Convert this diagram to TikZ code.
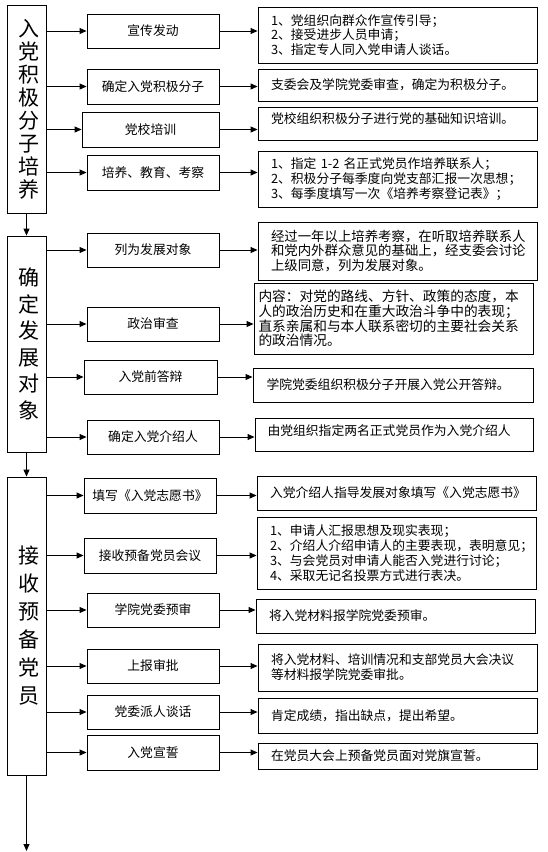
\documentclass[tikz,border=0pt]{standalone}
\usepackage{fontspec}
\setmainfont{Noto Sans CJK SC}
\usetikzlibrary{arrows.meta}
\newcommand\mybox[7][]{\node[box,minimum width={#5-#3},minimum height={#6-#4},#1] (#2) at ({(#3+#5)/2},{(#4+#6)/2}) {#7};}
\begin{document}
\begin{tikzpicture}[x=1pt,y=-1pt,
  box/.style={draw,line width=0.9pt,inner sep=0pt},
  mid/.style={font=\fontsize{12.8}{14.5}\selectfont},
  rbox/.style={font=\fontsize{12.8}{14.6}\selectfont,align=left,text width=253pt},
  lbox/.style={align=center},
  arr/.style={line width=0.9pt,-{Triangle[length=7pt,width=6pt]}}]
\useasboundingbox (0,0) rectangle (548,852);
% left stage boxes
\mybox[lbox,font=\fontsize{21}{23}\selectfont]{L1}{7}{5}{46}{213}{\hspace*{5pt}入\\\hspace*{5pt}党\\\hspace*{5pt}积\\\hspace*{5pt}极\\\hspace*{5pt}分\\\hspace*{5pt}子\\\hspace*{5pt}培\\\hspace*{5pt}养}
\mybox[lbox,font=\fontsize{21}{26.5}\selectfont]{L2}{7}{236}{46}{452}{\hspace*{5pt}确\\\hspace*{5pt}定\\\hspace*{5pt}发\\\hspace*{5pt}展\\\hspace*{5pt}对\\\hspace*{5pt}象}
\mybox[lbox,font=\fontsize{21}{28}\selectfont]{L3}{7}{477}{46}{775}{\hspace*{5pt}接\\\hspace*{5pt}收\\\hspace*{5pt}预\\\hspace*{5pt}备\\\hspace*{5pt}党\\\hspace*{5pt}员}
% middle boxes
\mybox[mid]{m1}{87}{14}{219}{48}{宣传发动}
\mybox[mid]{m2}{87}{69}{219}{104}{确定入党积极分子}
\mybox[mid]{m3}{82}{112}{219}{147}{党校培训}
\mybox[mid]{m4}{87}{155}{219}{190}{培养、教育、考察}
\mybox[mid]{m5}{87}{233}{219}{267}{列为发展对象}
\mybox[mid]{m6}{87}{307}{219}{341}{政治审查}
\mybox[mid]{m7}{84}{360}{217}{394}{入党前答辩}
\mybox[mid]{m8}{87}{420}{219}{454}{确定入党介绍人}
\mybox[mid]{m9}{84}{478}{216}{513}{填写《入党志愿书》}
\mybox[mid]{m10}{84}{538}{216}{573}{接收预备党员会议}
\mybox[mid]{m11}{87}{593}{219}{627}{学院党委预审}
\mybox[mid]{m12}{87}{649}{219}{683}{上报审批}
\mybox[mid]{m13}{87}{695}{219}{729}{党委派人谈话}
\mybox[mid]{m14}{87}{735}{219}{770}{入党宣誓}
% right boxes
\mybox[rbox]{r1}{258}{7}{537}{63}{1、党组织向群众作宣传引导；\\2、接受进步人员申请；\\3、指定专人同入党申请人谈话。}
\mybox[rbox]{r2}{258}{69}{537}{101}{支委会及学院党委审查，确定为积极分子。}
\mybox[rbox]{r3}{258}{107}{537}{140}{党校组织积极分子进行党的基础知识培训。\\[-3pt]\mbox{}}
\mybox[rbox]{r4}{258}{151}{537}{207}{1、指定 1-2 名正式党员作培养联系人；\\2、积极分子每季度向党支部汇报一次思想；\\3、每季度填写一次《培养考察登记表》；}
\mybox[rbox,font=\fontsize{13.4}{14.6}\selectfont]{r5}{258}{222}{537}{280}{经过一年以上培养考察，在听取培养联系人\\和党内外群众意见的基础上，经支委会讨论\\上级同意，列为发展对象。}
\mybox[rbox,text width=270pt,font=\fontsize{13.7}{14.6}\selectfont]{r6}{254}{283}{533}{354}{内容：对党的路线、方针、政策的态度，本\\人的政治历史和在重大政治斗争中的表现；\\直系亲属和与本人联系密切的主要社会关系\\的政治情况。}
\mybox[rbox]{r7}{253}{368}{533}{402}{学院党委组织积极分子开展入党公开答辩。}
\mybox[rbox]{r8}{255}{418}{533}{451}{由党组织指定两名正式党员作为入党介绍人\\[-5pt]\mbox{}}
\mybox[rbox]{r9}{257}{476}{536}{510}{入党介绍人指导发展对象填写《入党志愿书》}
\mybox[rbox,font=\fontsize{12.8}{15}\selectfont]{r10}{257}{517}{536}{589}{1、申请人汇报思想及现实表现；\\2、介绍人介绍申请人的主要表现，表明意见；\\3、与会党员对申请人能否入党进行讨论；\\4、采取无记名投票方式进行表决。}
\mybox[rbox]{r11}{256}{599}{535}{633}{将入党材料报学院党委预审。}
\mybox[rbox,font=\fontsize{12.8}{15}\selectfont]{r12}{258}{644}{537}{691}{将入党材料、培训情况和支部党员大会决议\\等材料报学院党委审批。}
\mybox[rbox]{r13}{258}{698}{537}{733}{肯定成绩，指出缺点，提出希望。}
\mybox[rbox]{r14}{258}{743}{537}{769}{在党员大会上预备党员面对党旗宣誓。}
% connectors
\foreach \m in {m1,m2,m3,m4}{\draw[arr] (L1.east |- \m.west) -- (\m.west);}
\foreach \m in {m5,m6,m7,m8}{\draw[arr] (L2.east |- \m.west) -- (\m.west);}
\foreach \m in {m9,m10,m11,m12,m13,m14}{\draw[arr] (L3.east |- \m.west) -- (\m.west);}
\foreach \i in {1,...,14}{\draw[arr] (m\i.east) -- (m\i.east -| r\i.west);}
\draw[arr] (L1.south) -- (L2.north);
\draw[arr] (L2.south) -- (L3.north);
\coordinate (end) at (26.5,851);
\draw[arr] (L3.south) -- (end);
\end{tikzpicture}
\end{document}
